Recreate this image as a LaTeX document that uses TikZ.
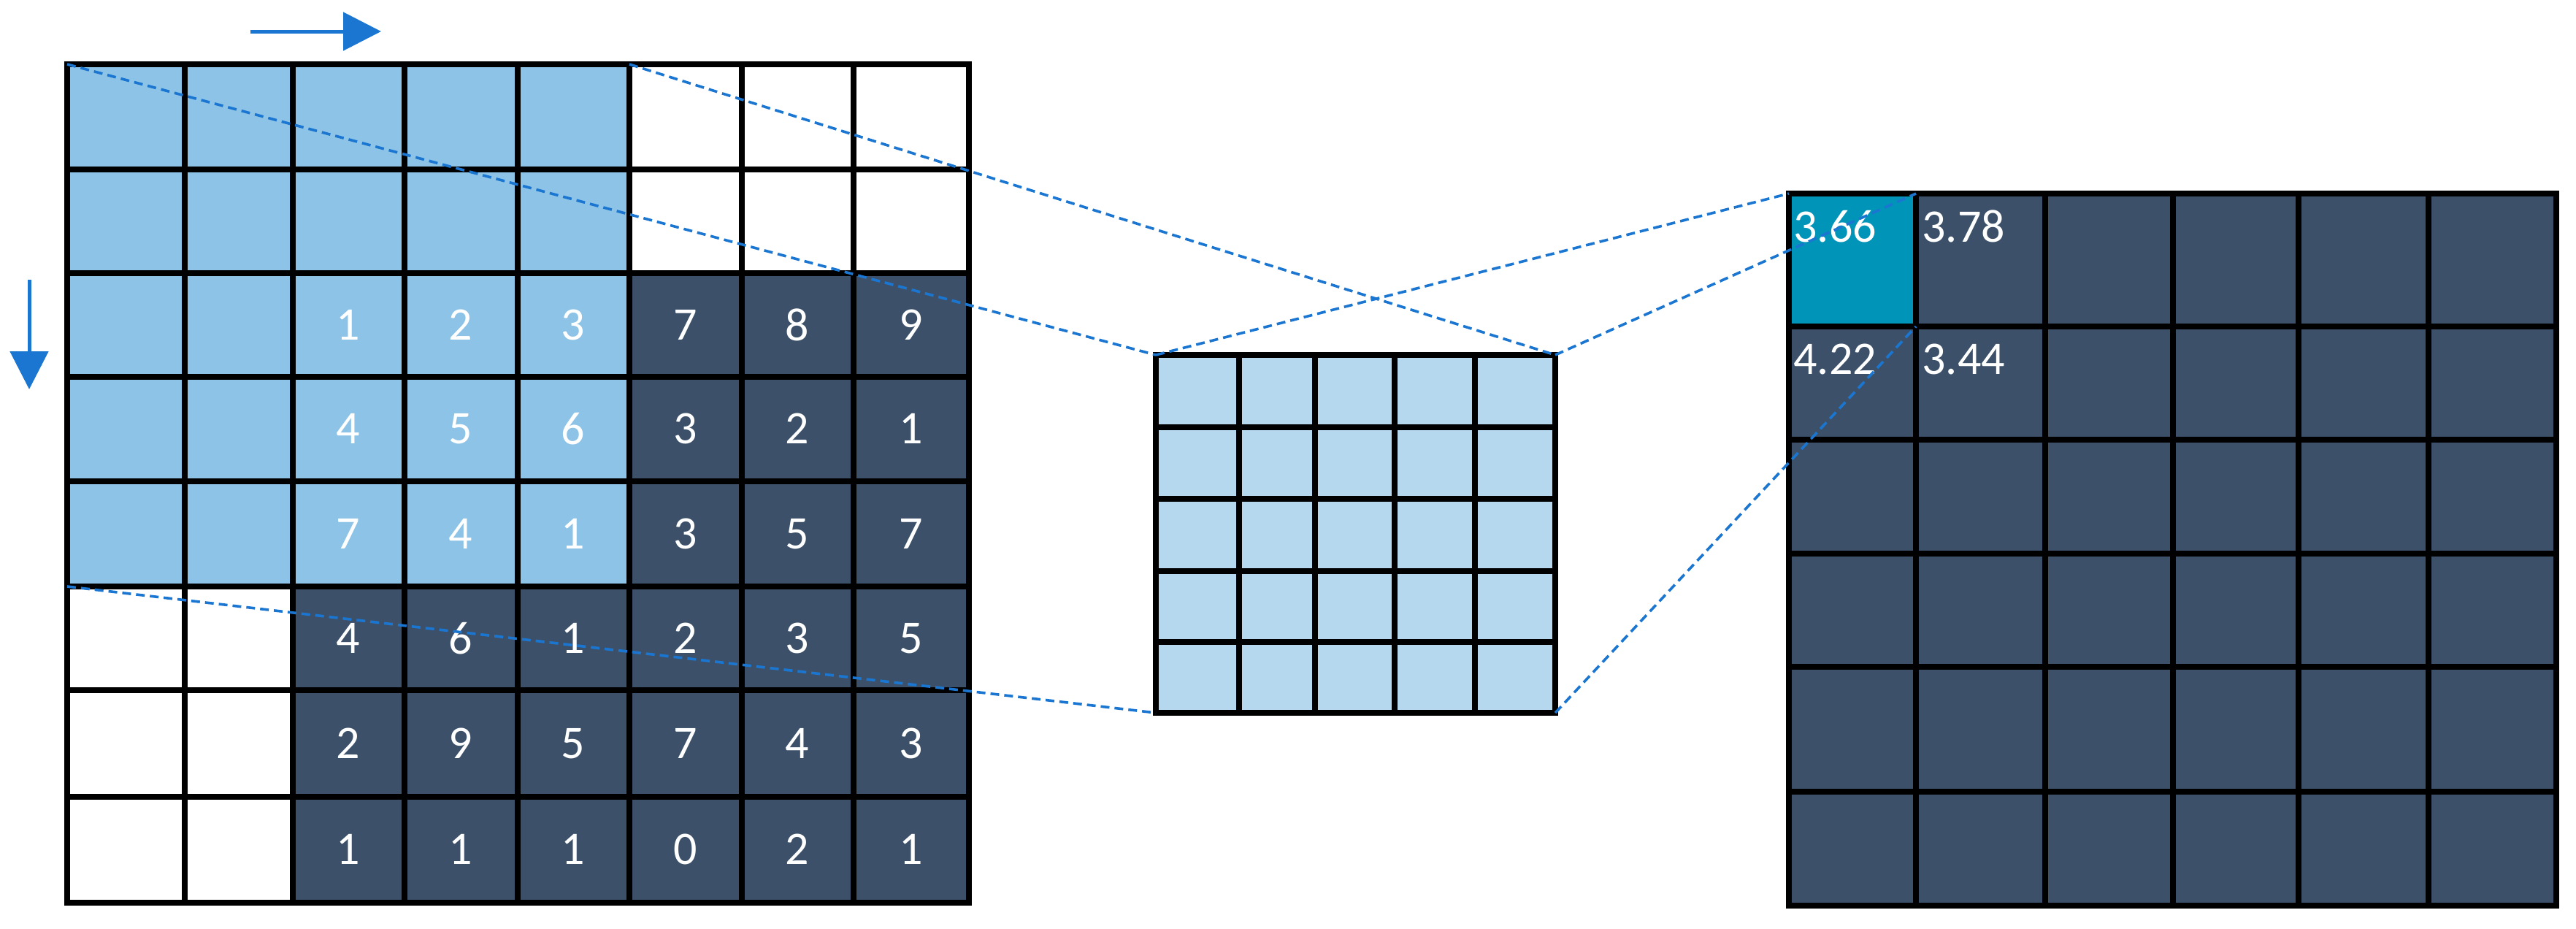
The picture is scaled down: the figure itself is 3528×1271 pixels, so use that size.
\documentclass[tikz,border=0pt]{standalone}
\usepackage{fontspec}
\setmainfont{Carlito}
\usetikzlibrary{arrows.meta}
\definecolor{lb}{RGB}{141,195,230}
\definecolor{db}{RGB}{60,81,105}
\definecolor{mb}{RGB}{181,216,238}
\definecolor{tl}{RGB}{0,148,184}
\definecolor{ar}{RGB}{26,118,208}
\tikzset{
  gl/.style={line width=4pt,black,line cap=rect},
  dl/.style={ar,line width=1.8pt,dash pattern=on 6pt off 3.5pt},
  num/.style={text=white,font=\fontsize{32}{32}\selectfont,inner sep=0pt},
  val/.style={text=white,font=\fontsize{32}{32}\selectfont,inner sep=0pt,anchor=west},
  mv/.style={ar,line width=2.5pt,-{Triangle[length=26pt,width=26pt]}}
}
\begin{document}
\begin{tikzpicture}[x=0.5pt,y=-0.5pt]
\useasboundingbox (0,0) rectangle (3528,1271);
% left grid
\fill[db] (401,374) rectangle (1327,1236);
\fill[lb] (92,88) rectangle (862,803);
\foreach \x in {92,253,401,554,709,862,1016,1169,1327} \draw[gl] (\x,88) -- (\x,1236);
\foreach \y in {88,232,374,516,659,803,945,1091,1236} \draw[gl] (92,\y) -- (1327,\y);
\foreach \row/\cy [count=\r from 2] in {
  {1/477,2/631,3/785,7/939,8/1092,9/1248}/445,
  {4/477,5/631,6/785,3/939,2/1092,1/1248}/587,
  {7/477,4/631,1/785,3/939,5/1092,7/1248}/731,
  {4/477,6/631,1/785,2/939,3/1092,5/1248}/874,
  {2/477,9/631,5/785,7/939,4/1092,3/1248}/1018,
  {1/477,1/631,1/785,0/939,2/1092,1/1248}/1163}{
  \foreach \v/\cx [count=\c from 2] in \row {
    \node[num] (n\r\c) at (\cx,\cy) {\v};
  }
}
% middle grid
\fill[mb] (1583,486) rectangle (2130,976);
\foreach \x in {1583,1697,1801,1910,2020,2130} \draw[gl] (\x,486) -- (\x,976);
\foreach \y in {486,585,683,782,879,976} \draw[gl] (1583,\y) -- (2130,\y);
% right grid
\fill[db] (2450,265) rectangle (3501,1240);
\fill[tl] (2450,265) rectangle (2624,447);
\foreach \x in {2450,2624,2801,2976,3148,3326,3501} \draw[gl] (\x,265) -- (\x,1240);
\foreach \y in {265,447,602,758,913,1084,1240} \draw[gl] (2450,\y) -- (3501,\y);
\node[val] (v1) at (2456,310) {3.66};
\node[val] (v2) at (2632,310) {3.78};
\node[val] (v3) at (2456,492) {4.22};
\node[val] (v4) at (2632,492) {3.44};
% corner coordinates
\coordinate (Ltl) at (92,88);
\coordinate (Lt5) at (862,88);
\coordinate (Lb5) at (92,803);
\coordinate (Mtl) at (1583,486);
\coordinate (Mtr) at (2130,486);
\coordinate (Mbl) at (1583,976);
\coordinate (Mbr) at (2130,976);
\coordinate (Rtl) at (2450,265);
\coordinate (Ttr) at (2624,265);
\coordinate (Tbr) at (2624,447);
\draw[dl] (Ltl) -- (Mtl);
\draw[dl] (Lt5) -- (Mtr);
\draw[dl] (Lb5) -- (Mbl);
\draw[dl] (Mtl) -- (Rtl);
\draw[dl] (Mtr) -- (Ttr);
\draw[dl] (Mbr) -- (Tbr);
% motion arrows
\coordinate (ha) at (343,43);
\coordinate (hb) at (522,43);
\coordinate (va) at (40,383);
\coordinate (vb) at (40,533);
\draw[mv] (ha) -- (hb);
\draw[mv] (va) -- (vb);
\end{tikzpicture}
\end{document}
